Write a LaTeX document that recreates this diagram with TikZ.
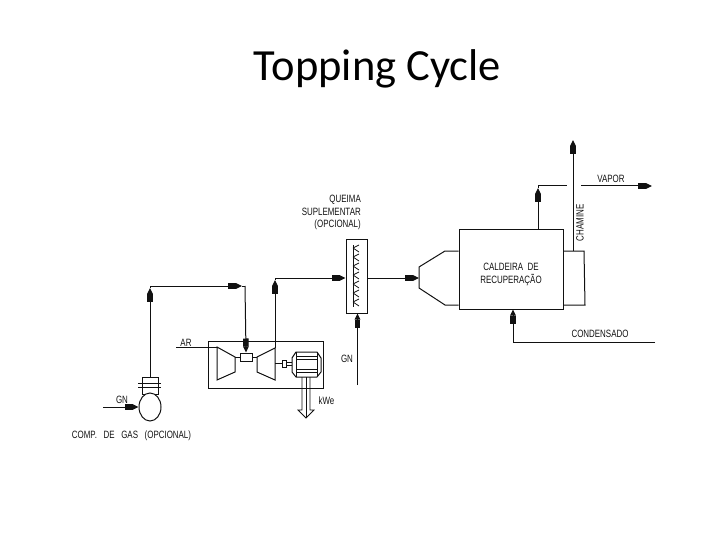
\documentclass[tikz,border=0pt]{standalone}
\usepackage{fontspec}
\setmainfont{Carlito}
\newfontfamily\cadfont[FakeStretch=0.75]{Liberation Sans}
\usetikzlibrary{arrows.meta,shapes.geometric}
\definecolor{ink}{HTML}{111111}
\tikzset{
  every node/.style={font=\cadfont\fontsize{10.6}{12.4}\selectfont, text=ink, inner sep=0pt},
  pipe/.style={draw=ink, line width=1pt},
  thin pipe/.style={draw=ink, line width=0.8pt},
  flowpipe/.style={pipe, -{Rectangle[length=8pt,width=5.5pt,sep=0pt]Triangle[length=6pt,width=5.5pt]}},
  unit/.style={rectangle, draw=ink, line width=1pt, fill=white},
  title/.style={font=\fontsize{44.5}{50}\selectfont, text=black},
}
\begin{document}
\begin{tikzpicture}[x=1pt,y=-1pt]
\useasboundingbox (0,0) rectangle (720,540);
\node[title] (t) at (377.5,69) {Topping Cycle};
% gas turbine package
\node[unit, minimum width=115pt, minimum height=47pt] (pack) at (265.5,364.5) {};
\node[unit, minimum width=12pt, minimum height=8pt] (burner) at (246,357) {};
\coordinate (compin) at (217,347);
\coordinate (turbout) at (275,348);
\draw[pipe] (compin) -- (217,380) -- (235,372) -- (235,357) -- cycle;
\draw[pipe] (turbout) -- (275,380) -- (257,372) -- (257,357) -- cycle;
\draw[thin pipe] (235,357) -- (burner) -- (257,357);
% generator
\node[unit, minimum width=4pt, minimum height=7pt] (coupling) at (284,363.5) {};
\draw[thin pipe] (275,363.5) -- (coupling);
\draw[thin pipe] (coupling.east |- 0,362) -- (292,362) (coupling.east |- 0,365) -- (292,365);
\draw[pipe] (292,358) -- (296,352) -- (317,352) -- (321,358) -- (321,372) -- (317,377) -- (296,377) -- (292,372) -- cycle;
\draw[thin pipe] (296,352) -- (296,377) (317,352) -- (317,377);
\foreach \yy in {356,359,369,372} {
  \draw[thin pipe] (296,\yy) -- (317,\yy);
}
\coordinate (gentop) at (306,377);
\coordinate (powertip) at (306,418);
\draw[thin pipe] (302,377) -- (302,410) -- (298,410) -- (powertip) -- (314,410) -- (310,410) -- (310,377);
\draw[thin pipe] (gentop) -- (powertip);
% gas compressor
\node[rectangle, draw=ink, line width=1pt, minimum width=16pt, minimum height=17pt, anchor=north] (comptop) at (150,377) {};
\draw[thin pipe] (138,383) -- (161,383) (138,387) -- (161,387);
\node[ellipse, draw=ink, fill=white, line width=1pt, minimum width=22pt, minimum height=28pt] (comp) at (150,407) {};
\coordinate (gnin) at (103,407);
\draw[flowpipe] (gnin) -- (comp.west);
% gas line up to the burner
\coordinate (c1) at (150,286);
\coordinate (c2) at (245,286);
\coordinate (a1) at (150,288);
\coordinate (a2) at (242,286);
\draw[flowpipe] (comptop.north) -- (a1);
\draw[pipe] (a1) -- (c1);
\draw[flowpipe] (c1) -- (a2);
\draw[pipe] (a2) -- (c2);
\draw[flowpipe] (c2) -- (burner.north);
\draw[pipe] (176,347) -- (compin);
% exhaust to stack
\coordinate (c3) at (275,278);
\coordinate (a3) at (275,280);
\draw[flowpipe] (turbout) -- (a3);
\draw[pipe] (a3) -- (c3);
% supplementary firing
\node[unit, minimum width=21pt, minimum height=74pt] (stack) at (356.5,276) {};
\draw[flowpipe] (c3) -- (stack.west |- c3);
\draw[thin pipe] (353,245) -- (353,307);
\foreach \yy in {245,254,263,272,281,290,299} {
  \draw[thin pipe] (353,\yy+3) -- (359,\yy) (353,\yy+3) -- (359,\yy+7);
}
\coordinate (gnstack) at (357.5,385);
\draw[flowpipe] (gnstack) -- (gnstack |- stack.south);
% recovery boiler
\node[unit, minimum width=104pt, minimum height=79pt] (hrsg) at (511,269.5) {};
\coordinate (ductin) at (419,278);
\draw[pipe] (hrsg.west |- 0,251) -- (445,251) -- (419,267) -- (419,288) -- (445,305) -- (hrsg.west |- 0,305);
\draw[pipe] (hrsg.east |- 0,251) -- (584,251) -- (585,305) -- (hrsg.east |- 0,305);
\draw[flowpipe] (stack.east |- ductin) -- (ductin);
% chimney and steam
\coordinate (chimbase) at (573,251);
\coordinate (chimtop) at (573,140);
\draw[flowpipe] (chimbase) -- (chimtop);
\coordinate (c4) at (538,186);
\coordinate (a4) at (538,188);
\draw[flowpipe] (hrsg.north -| c4) -- (a4);
\draw[pipe] (a4) -- (c4) -- (567,186);
\coordinate (vapstart) at (581,186);
\coordinate (vapend) at (652,186);
\draw[flowpipe] (vapstart) -- (vapend);
% condensate
\coordinate (condin) at (655,342);
\coordinate (c5) at (513,342);
\draw[pipe] (condin) -- (c5);
\draw[flowpipe] (c5) -- (hrsg.south -| c5);
% labels
\node (lar) at (186,343) {AR};
\node (lgn1) at (122,400) {GN};
\node (lcomp) at (131.5,436) {COMP.\ \ \ DE\ \ \ GAS\ \ \ (OPCIONAL)};
\node (lgn2) at (347,359) {GN};
\node (lkwe) at (326.5,401) {kWe};
\node[align=right, anchor=east] (lqueima) at (361,212.5) {QUEIMA\\SUPLEMENTAR\\(OPCIONAL)};
\node[align=center] (lcald) at (511,274.5) {CALDEIRA\ \ DE\\RECUPERAÇÃO};
\node[rotate=90] (lchamine) at (580,223) {CHAMINE};
\node (lvapor) at (611,179) {VAPOR};
\node (lcond) at (600,334) {CONDENSADO};
\end{tikzpicture}
\end{document}
